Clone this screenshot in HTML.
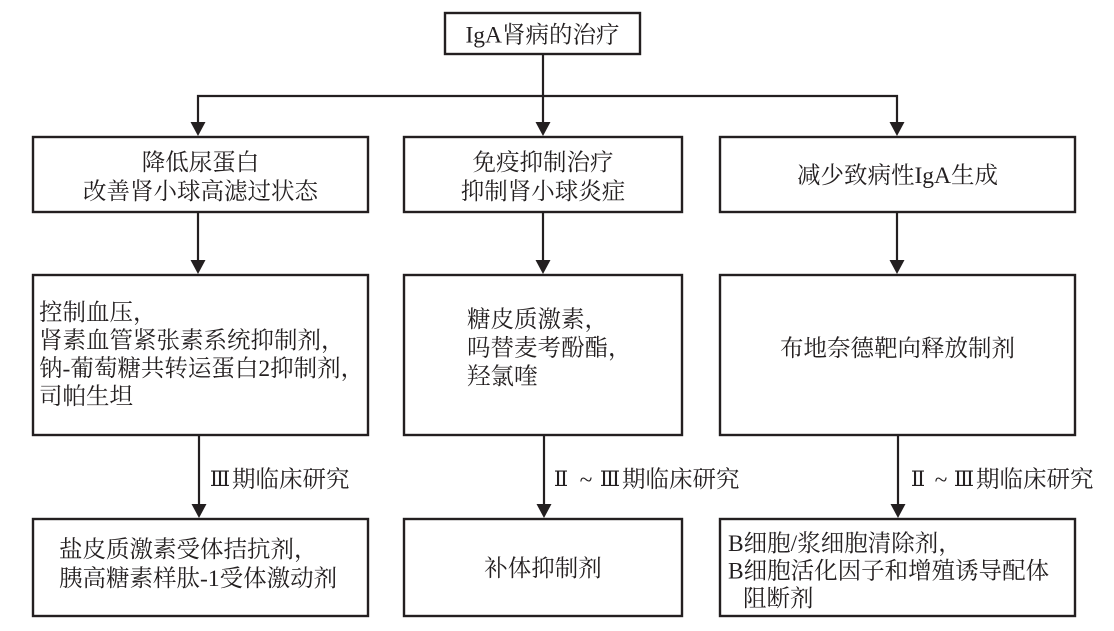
<!DOCTYPE html>
<html>
<head>
<meta charset="utf-8">
<style>
  html, body { margin: 0; padding: 0; background: #ffffff; }
  body { width: 1114px; height: 631px; overflow: hidden; }
  svg { display: block; }
  text {
    font-family: "Liberation Serif", "Noto Serif CJK SC", "Noto Serif CJK JP", serif;
    font-size: 23.5px;
    fill: #231f20;
  }
  .num { font-family: "Liberation Serif", "DejaVu Serif", "Noto Serif CJK SC", serif; font-size: 21px; }
</style>
</head>
<body>
<svg width="1114" height="631" viewBox="0 0 1114 631" xmlns="http://www.w3.org/2000/svg">
  <g fill="none" stroke="#231f20" stroke-width="2.4">
    <!-- top box -->
    <rect x="445" y="13" width="195" height="41"/>
    <!-- row 1 -->
    <rect x="33" y="137" width="335" height="75"/>
    <rect x="404" y="137" width="278" height="75"/>
    <rect x="720" y="137" width="355" height="75"/>
    <!-- row 2 -->
    <rect x="33" y="275" width="335" height="160"/>
    <rect x="404" y="275" width="278" height="160"/>
    <rect x="720" y="275" width="355" height="160"/>
    <!-- row 3 -->
    <rect x="33" y="519" width="335" height="97"/>
    <rect x="404" y="519" width="278" height="97"/>
    <rect x="720" y="519" width="355" height="97"/>
  </g>

  <g fill="none" stroke="#231f20" stroke-width="2.2">
    <!-- top trunk -->
    <line x1="543" y1="55" x2="543" y2="124"/>
    <!-- horizontal branch -->
    <polyline points="198,124 198,96 897,96 897,124"/>
    <!-- row1 -> row2 -->
    <line x1="198" y1="213" x2="198" y2="262"/>
    <line x1="543" y1="213" x2="543" y2="262"/>
    <line x1="897" y1="213" x2="897" y2="262"/>
    <!-- row2 -> row3 -->
    <line x1="199" y1="436" x2="199" y2="506"/>
    <line x1="544" y1="436" x2="544" y2="506"/>
    <line x1="898" y1="436" x2="898" y2="506"/>
  </g>

  <g fill="#231f20">
    <!-- arrowheads to row 1 -->
    <polygon points="198,136 190.5,122 205.5,122"/>
    <polygon points="543,136 535.5,122 550.5,122"/>
    <polygon points="897,136 889.5,122 904.5,122"/>
    <!-- arrowheads to row 2 -->
    <polygon points="198,274 190.5,260 205.5,260"/>
    <polygon points="543,274 535.5,260 550.5,260"/>
    <polygon points="897,274 889.5,260 904.5,260"/>
    <!-- arrowheads to row 3 -->
    <polygon points="199,518 191.5,504 206.5,504"/>
    <polygon points="544,518 536.5,504 551.5,504"/>
    <polygon points="898,518 890.5,504 905.5,504"/>
  </g>

  <!-- top box text -->
  <text x="542.5" y="42.5" text-anchor="middle">IgA肾病的治疗</text>

  <!-- row 1 text -->
  <text x="200.5" y="170" text-anchor="middle">降低尿蛋白</text>
  <text x="200.5" y="199" text-anchor="middle">改善肾小球高滤过状态</text>

  <text x="543" y="170" text-anchor="middle">免疫抑制治疗</text>
  <text x="543" y="199" text-anchor="middle">抑制肾小球炎症</text>

  <text x="897.5" y="183" text-anchor="middle">减少致病性IgA生成</text>

  <!-- row 2 text -->
  <text x="39" y="320">控制血压，</text>
  <text x="39" y="348">肾素血管紧张素系统抑制剂，</text>
  <text x="39" y="376">钠-葡萄糖共转运蛋白2抑制剂，</text>
  <text x="39" y="404">司帕生坦</text>

  <text x="467" y="327">糖皮质激素，</text>
  <text x="467" y="355.5">吗替麦考酚酯，</text>
  <text x="467" y="384">羟氯喹</text>

  <text x="897.5" y="356" text-anchor="middle">布地奈德靶向释放制剂</text>

  <!-- connector labels -->
  <text class="num" x="220" y="486" text-anchor="middle">Ⅲ</text>
  <text x="232" y="487">期临床研究</text>

  <text class="num" x="561" y="486" text-anchor="middle">Ⅱ</text>
  <text x="586" y="487" text-anchor="middle">~</text>
  <text class="num" x="610" y="486" text-anchor="middle">Ⅲ</text>
  <text x="622" y="487">期临床研究</text>

  <text class="num" x="918" y="486" text-anchor="middle">Ⅱ</text>
  <text x="941" y="487" text-anchor="middle">~</text>
  <text class="num" x="964" y="486" text-anchor="middle">Ⅲ</text>
  <text x="976" y="487">期临床研究</text>

  <!-- row 3 text -->
  <text x="59" y="557">盐皮质激素受体拮抗剂，</text>
  <text x="59" y="586">胰高糖素样肽-1受体激动剂</text>

  <text x="543" y="576" text-anchor="middle">补体抑制剂</text>

  <text x="728" y="551">B细胞/浆细胞清除剂，</text>
  <text x="728" y="578.5">B细胞活化因子和增殖诱导配体</text>
  <text x="743" y="606">阻断剂</text>
</svg>
</body>
</html>
